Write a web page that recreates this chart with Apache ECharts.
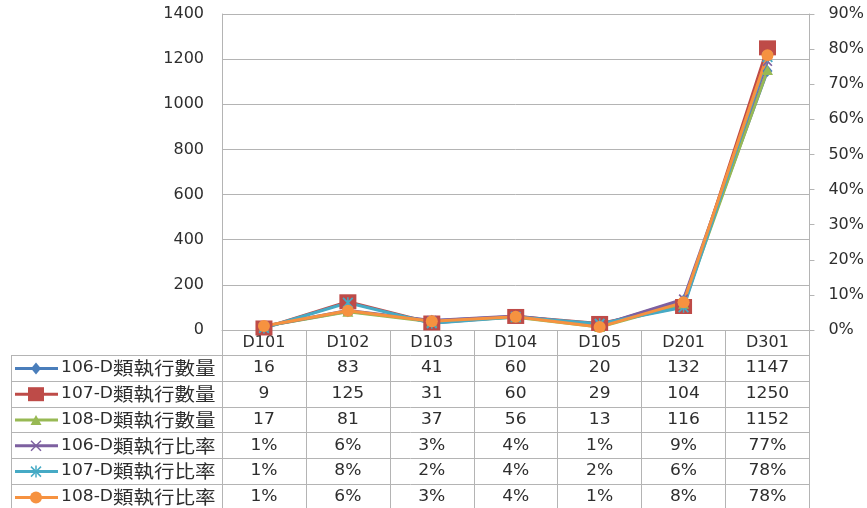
<!DOCTYPE html>
<html>
<head>
<meta charset="utf-8">
<script src="https://cdn.jsdelivr.net/npm/echarts@6/dist/echarts.min.js"></script>
<style>
  html, body { margin: 0; padding: 0; background: #fff; }
  #chart { width: 867px; height: 508px; }
</style>
</head>
<body>
<div id="chart"></div>
<script>
// data
var categories = ['D101', 'D102', 'D103', 'D104', 'D105', 'D201', 'D301'];
var count106 = [16, 83, 41, 60, 20, 132, 1147];
var count107 = [9, 125, 31, 60, 29, 104, 1250];
var count108 = [17, 81, 37, 56, 13, 116, 1152];
var ratio106 = [0.0107, 0.0554, 0.0274, 0.0400, 0.0133, 0.0881, 0.7652];
var ratio107 = [0.0056, 0.0777, 0.0193, 0.0373, 0.0180, 0.0647, 0.7774];
var ratio108 = [0.0115, 0.0550, 0.0251, 0.0380, 0.0088, 0.0788, 0.7826];
var seriesNames = ['106-D類執行數量', '107-D類執行數量', '108-D類執行數量',
                   '106-D類執行比率', '107-D類執行比率', '108-D類執行比率'];

var font = 'DejaVu Sans, Verdana, Noto Sans CJK TC, sans-serif';
var textColor = '#2e2e2e';
var gridColor = '#b4b4b4';
var stretch = 1.14;   // the original text is a bit wider than DejaVu

// marker shapes (x and asterisk are not built in)
var xPath = 'M0,1.2L1.2,0L5,3.8L8.8,0L10,1.2L6.2,5L10,8.8L8.8,10L5,6.2L1.2,10L0,8.8L3.8,5Z';
var starPath = xPath + 'M4.3,0L5.7,0L5.7,10L4.3,10Z';

var looks = [
  { data: count106, axis: 0, color: '#4a7ebb', symbol: 'diamond', size: [10, 12], key: 'diamond' },
  { data: count107, axis: 0, color: '#be4b48', symbol: 'rect', size: [17, 15], key: 'rect' },
  { data: count108, axis: 0, color: '#98b954', symbol: 'triangle', size: [11, 10], key: 'triangle' },
  { data: ratio106, axis: 1, color: '#7d60a0', symbol: 'path://' + xPath, size: [10, 10], key: 'x' },
  { data: ratio107, axis: 1, color: '#46aac5', symbol: 'path://' + starPath, size: [11, 11], key: 'star' },
  { data: ratio108, axis: 1, color: '#f69240', symbol: 'circle', size: 12, key: 'circle' }
];

var chart = echarts.init(document.getElementById('chart'), null, { renderer: 'canvas' });

var series = looks.map(function (s, i) {
  return {
    name: seriesNames[i],
    type: 'line',
    yAxisIndex: s.axis,
    data: s.data,
    symbol: s.symbol,
    symbolSize: s.size,
    showAllSymbol: true,
    lineStyle: { color: s.color, width: 3 },
    itemStyle: { color: s.color, borderWidth: 0 },
    emphasis: { disabled: true }
  };
});

chart.setOption({
  animation: false,
  backgroundColor: '#fff',
  grid: { left: 222, right: 57, top: 14, bottom: 178 },
  xAxis: {
    type: 'category',
    data: categories,
    boundaryGap: true,
    axisLine: { lineStyle: { color: gridColor, width: 1 } },
    axisTick: { show: true, length: 180, lineStyle: { color: gridColor } },
    axisLabel: { margin: 5, fontFamily: font, fontSize: 16, color: textColor }
  },
  yAxis: [
    {
      type: 'value', min: 0, max: 1400, interval: 200,
      axisLine: { show: true, lineStyle: { color: gridColor } },
      axisTick: { show: false },
      splitLine: { lineStyle: { color: gridColor } },
      axisLabel: { margin: 18, fontFamily: font, fontSize: 16, color: textColor,
        formatter: function (v) { return String(v); } }
    },
    {
      type: 'value', min: 0, max: 0.9, interval: 0.1,
      position: 'right',
      axisLine: { show: true, lineStyle: { color: gridColor } },
      axisTick: { show: true, length: 5, lineStyle: { color: gridColor } },
      splitLine: { show: false },
      axisLabel: {
        margin: 19, fontFamily: font, fontSize: 16, color: textColor,
        formatter: function (v) { return Math.round(v * 100) + '%'; }
      }
    }
  ],
  series: series
});

// legend key marker for the table, drawn from plain shapes
function keyMarker(kind, cx, cy, color) {
  var st = { fill: color };
  var ln = { stroke: color, lineWidth: 1.5 };
  if (kind === 'diamond') return [{ type: 'polygon', silent: true, shape: { points: [[cx, cy - 6], [cx + 5, cy], [cx, cy + 6], [cx - 5, cy]] }, style: st }];
  if (kind === 'rect') return [{ type: 'rect', silent: true, shape: { x: cx - 8, y: cy - 7, width: 16, height: 14 }, style: st }];
  if (kind === 'triangle') return [{ type: 'polygon', silent: true, shape: { points: [[cx, cy - 5], [cx + 5.5, cy + 5], [cx - 5.5, cy + 5]] }, style: st }];
  if (kind === 'circle') return [{ type: 'circle', silent: true, shape: { cx: cx, cy: cy, r: 6 }, style: st }];
  var out = [
    { type: 'line', silent: true, shape: { x1: cx - 5, y1: cy - 5, x2: cx + 5, y2: cy + 5 }, style: ln },
    { type: 'line', silent: true, shape: { x1: cx - 5, y1: cy + 5, x2: cx + 5, y2: cy - 5 }, style: ln }
  ];
  if (kind === 'star') out.push({ type: 'line', silent: true, shape: { x1: cx, y1: cy - 6, x2: cx, y2: cy + 6 }, style: ln });
  return out;
}

// data table under the plot
var tableTop = 355, rowH = 25.8, tableLeft = 11, tableRight = 810;
var elements = [];
for (var k = 0; k <= 6; k++) {
  var y = Math.round(tableTop + k * rowH) + 0.5;
  elements.push({ type: 'line', silent: true,
    shape: { x1: tableLeft, y1: y, x2: tableRight, y2: y },
    style: { stroke: gridColor, lineWidth: 1 } });
}
elements.push({ type: 'line', silent: true,
  shape: { x1: tableLeft + 0.5, y1: tableTop, x2: tableLeft + 0.5, y2: 508 },
  style: { stroke: gridColor, lineWidth: 1 } });

looks.forEach(function (s, i) {
  var cy = tableTop + (i + 0.5) * rowH + 0.5;
  elements.push({ type: 'line', silent: true,
    shape: { x1: 15, y1: cy, x2: 58, y2: cy },
    style: { stroke: s.color, lineWidth: 3 } });
  elements = elements.concat(keyMarker(s.key, 36, cy, s.color));
  var name = seriesNames[i];
  elements.push({ type: 'text', silent: true, x: 61, y: cy, scaleX: stretch,
    style: {
      text: '{a|' + name.slice(0, 5) + '}{b|' + name.slice(5) + '}',
      verticalAlign: 'middle', align: 'left',
      rich: {
        a: { fontFamily: font, fontSize: 15, fill: textColor, color: textColor },
        b: { fontFamily: 'Noto Sans CJK TC, sans-serif', fontSize: 18, fill: textColor, color: textColor }
      }
    } });
  s.data.forEach(function (v, j) {
    var cx = chart.convertToPixel({ xAxisIndex: 0 }, j);
    var label = s.axis === 1 ? Math.round(v * 100) + '%' : String(v);
    elements.push({ type: 'text', silent: true, x: cx, y: cy, scaleX: stretch,
      style: { text: label, align: 'center', verticalAlign: 'middle',
        fontFamily: font, fontSize: 15, fill: textColor } });
  });
});

chart.setOption({ graphic: { elements: elements } });
</script>
</body>
</html>
